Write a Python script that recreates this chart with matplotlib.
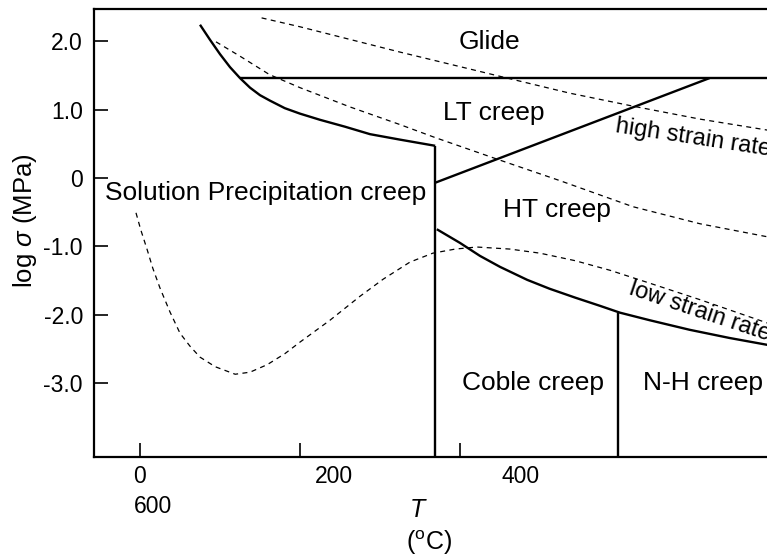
import matplotlib
matplotlib.use("Agg")
import matplotlib.pyplot as plt

plt.rcParams['font.family'] = ['Liberation Sans', 'DejaVu Sans']
plt.rcParams['mathtext.fontset'] = 'custom'
plt.rcParams['mathtext.rm'] = 'Liberation Sans'
plt.rcParams['mathtext.it'] = 'Liberation Sans:italic'

# mechanism boundaries (T in C, log stress in MPa)
lt_sp_T = [75, 87.5, 100, 112.5, 125, 137.5, 150, 162.5, 181, 200, 225, 256, 287.5, 325, 369]
lt_sp_s = [2.24, 2.02, 1.81, 1.62, 1.46, 1.32, 1.21, 1.13, 1.02, 0.94, 0.85, 0.75, 0.64, 0.56, 0.47]
sp_T = [369, 369]
sp_s = [0.47, -4.3]
glide_T = [125, 830]
glide_s = [1.46, 1.46]
lt_ht_T = [369, 712]
lt_ht_s = [-0.07, 1.46]
ht_T = [371, 400, 425, 450, 484, 512, 544, 575, 600, 637, 687, 737, 784, 830]
ht_s = [-0.75, -0.95, -1.14, -1.30, -1.49, -1.62, -1.75, -1.87, -1.97, -2.08, -2.22, -2.34, -2.44, -2.50]
coble_T = [598, 598]
coble_s = [-1.97, -4.3]

# strain rate contours
high_T = [152, 200, 325, 459, 537, 616, 700, 784, 830]
high_s = [2.34, 2.21, 1.84, 1.46, 1.24, 1.05, 0.86, 0.70, 0.62]
mid_T = [95, 125, 162, 200, 262, 325, 369, 450, 525, 616, 700, 784, 830]
mid_s = [1.99, 1.78, 1.51, 1.32, 1.04, 0.78, 0.59, 0.26, -0.04, -0.42, -0.67, -0.86, -0.95]
low_T = [-5, 1, 9, 16, 25, 37.5, 50, 62.5, 75, 94, 119, 137.5, 159, 181, 200, 237.5, 275,
         304, 337.5, 366, 394, 421, 462.5, 500, 544, 587.5, 637.5, 700, 784, 825]
low_s = [-0.51, -0.76, -1.05, -1.32, -1.61, -1.96, -2.27, -2.46, -2.62, -2.76, -2.87, -2.84,
         -2.73, -2.57, -2.40, -2.08, -1.73, -1.48, -1.23, -1.10, -1.04, -1.01, -1.04, -1.10,
         -1.21, -1.35, -1.54, -1.78, -2.12, -2.30]

xticks = [0, 200, 400]
yticks = [2.0, 1.0, 0.0, -1.0, -2.0, -3.0]
ylabels = ['2.0', '1.0', '0', '-1.0', '-2.0', '-3.0']

fig = plt.figure(figsize=(7.67, 5.59), dpi=100)
ax = fig.add_axes([94/767, 1-457/559, (790-94)/767, (457-9)/559])
ax.set_xlim(-57.5, 812.5)
ax.set_ylim(-4.08, 2.47)

solid = dict(color='black', lw=1.7, solid_capstyle='butt', solid_joinstyle='round')
for tx, sy in [(lt_sp_T, lt_sp_s), (sp_T, sp_s), (glide_T, glide_s),
               (lt_ht_T, lt_ht_s), (ht_T, ht_s), (coble_T, coble_s)]:
    ax.plot(tx, sy, **solid)
for tx, sy in [(high_T, high_s), (mid_T, mid_s), (low_T, low_s)]:
    ax.plot(tx, sy, color='black', lw=0.9, dashes=(4, 3.5))

fs = 19
ax.text(437, 1.99, 'Glide', fontsize=fs, ha='center', va='center')
ax.text(442, 0.95, 'LT creep', fontsize=fs, ha='center', va='center')
ax.text(157, -0.22, 'Solution Precipitation creep', fontsize=fs, ha='center', va='center')
ax.text(521, -0.47, 'HT creep', fontsize=fs, ha='center', va='center')
ax.text(491, -3.0, 'Coble creep', fontsize=fs, ha='center', va='center')
ax.text(704, -3.0, 'N-H creep', fontsize=fs, ha='center', va='center')
ax.text(594, 0.67, 'high strain rate', fontsize=17, ha='left', va='baseline',
        rotation=-8.7, rotation_mode='anchor', clip_on=True)
ax.text(610, -1.69, 'low strain rate', fontsize=17, ha='left', va='baseline',
        rotation=-18.5, rotation_mode='anchor', clip_on=True)

for s in ax.spines.values():
    s.set_linewidth(1.6)
ax.set_xticks(xticks, labels=['', '', ''])
ax.set_yticks(yticks, labels=ylabels)
ax.tick_params(direction='in', length=10, width=1.2, labelsize=16.5, pad=8)

tfs = 16.5
for x, y, t in [(0, -4.36, '0'), (242.5, -4.36, '200'), (476, -4.36, '400'), (16, -4.81, '600')]:
    ax.text(x, y, t, fontsize=tfs, ha='center', va='center')

fig.text(417/767, 1-510/559, 'T', fontsize=18, style='italic', ha='center', va='center')
fig.text(429/767, 1-543/559, r'($^{\mathrm{o}}$C)', fontsize=18, ha='center', va='center')
fig.text(25/767, 1-221/559, r'log $\it{\sigma}$ (MPa)', fontsize=18.5, rotation=90,
         ha='center', va='center')

plt.savefig('out.png', dpi=100)
